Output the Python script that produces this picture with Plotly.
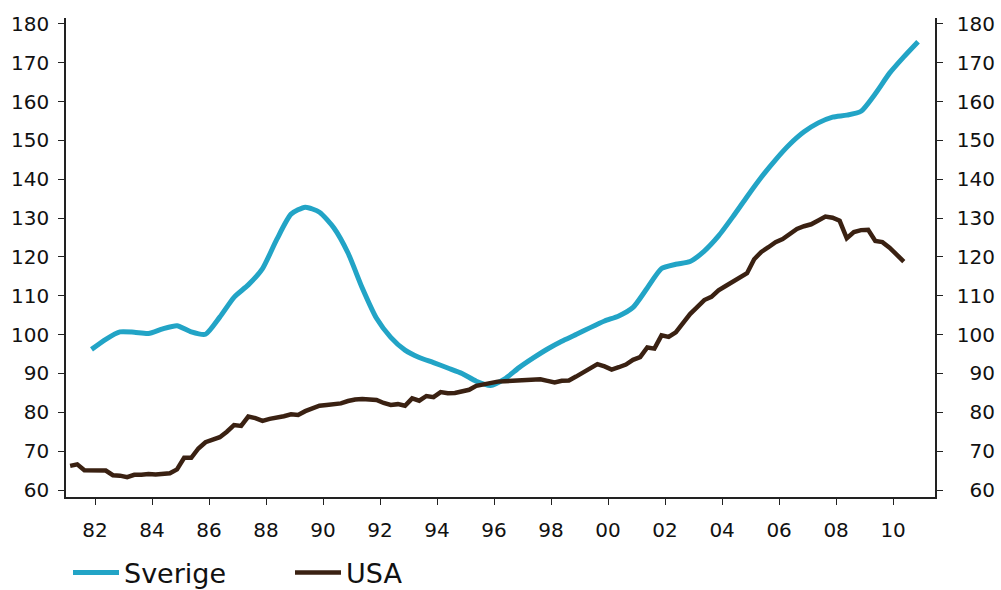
import plotly.graph_objects as go

# ---- data ----
# Sverige: half-yearly observations, starting late 1981
sverige_start = 1981.875
sverige_step = 0.5
sverige_values = [
    96.2, 98.8, 100.7, 100.6, 100.3, 101.5, 102.3, 100.7, 100.1, 104.5,
    109.6, 112.8, 117.0, 124.5, 131.0, 132.8, 131.5, 127.5, 121.0, 112.0,
    104.2, 99.3, 96.0, 94.1, 92.8, 91.4, 90.0, 88.0, 86.9, 88.6,
    91.5, 94.0, 96.3, 98.3, 100.0, 101.8, 103.5, 104.8, 107.0, 112.0,
    117.0, 118.1, 118.8, 121.5, 125.4, 130.3, 135.5, 140.5, 145.0, 149.0,
    152.2, 154.5, 156.0, 156.5, 157.5, 162.0, 167.3, 171.5, 175.4,
]

# USA: quarterly observations, starting early 1981
usa_start = 1981.125
usa_step = 0.25
usa_values = [
    66.2, 66.6, 65.1, 65.0, 65.1, 65.0, 63.8, 63.7, 63.3, 63.9,
    63.9, 64.1, 64.0, 64.1, 64.3, 65.3, 68.3, 68.3, 70.7, 72.3,
    72.9, 73.6, 75.0, 76.7, 76.5, 78.9, 78.5, 77.8, 78.3, 78.6,
    79.0, 79.5, 79.3, 80.3, 81.1, 81.7, 81.9, 82.0, 82.3, 82.9,
    83.3, 83.4, 83.2, 83.2, 82.4, 81.9, 82.1, 81.7, 83.6, 83.0,
    84.2, 83.9, 85.2, 84.9, 85.0, 85.3, 85.8, 86.8, 87.2, 87.5,
    87.9, 88.0, 88.1, 88.1, 88.2, 88.5, 88.5, 88.1, 87.7, 88.1,
    88.2, 89.2, 90.3, 91.4, 92.4, 91.8, 91.0, 91.6, 92.3, 93.5,
    94.2, 96.7, 96.4, 99.8, 99.4, 100.6, 102.9, 105.3, 107.1, 108.9,
    109.7, 111.4, 112.5, 113.7, 114.9, 115.8, 119.4, 121.3, 122.5, 123.8,
    124.6, 126.0, 127.2, 127.9, 128.4, 129.4, 130.4, 130.1, 129.3, 124.8,
    126.4, 126.9, 127.0, 124.1, 123.8, 122.4, 120.6, 118.8,
]

x_tick_years = list(range(1982, 2011, 2))
x_tick_labels = [f"{y % 100:02d}" for y in x_tick_years]
y_tick_values = list(range(60, 181, 10))

sverige_x = [sverige_start + sverige_step * i for i in range(len(sverige_values))]
usa_x = [usa_start + usa_step * i for i in range(len(usa_values))]

SVERIGE_COLOR = "#22A4C6"
USA_COLOR = "#3A2112"
FONT = "DejaVu Sans"

fig = go.Figure()
fig.add_trace(go.Scatter(
    x=sverige_x, y=sverige_values, name="Sverige", mode="lines",
    line=dict(color=SVERIGE_COLOR, width=5, shape="spline", smoothing=0.6),
))
fig.add_trace(go.Scatter(
    x=usa_x, y=usa_values, name="USA", mode="lines",
    line=dict(color=USA_COLOR, width=4.5),
))

yrange = [58.2, 181.5]
axis_common = dict(
    showgrid=False, zeroline=False, showline=True, linecolor="#222222",
    linewidth=1.5, ticks="outside", ticklen=6, tickwidth=1.2, tickcolor="#222222",
    tickfont=dict(family=FONT, size=20, color="#111111"), automargin=False,
)

fig.update_layout(
    width=1001, height=590,
    paper_bgcolor="white", plot_bgcolor="white",
    margin=dict(l=66, r=66, t=18, b=93),
    xaxis=dict(
        range=[1980.98, 2011.47], tickvals=x_tick_years, ticktext=x_tick_labels,
        ticklabelstandoff=8, **axis_common,
    ),
    yaxis=dict(
        range=yrange, tickvals=y_tick_values,
        ticktext=[str(v) for v in y_tick_values],
        ticklabelstandoff=5, **axis_common,
    ),
    yaxis2=dict(
        range=yrange, overlaying="y", side="right", tickvals=y_tick_values,
        ticktext=[("\u2007" if v < 100 else "") + str(v) for v in y_tick_values],
        ticklabelstandoff=10, **axis_common,
    ),
    showlegend=True,
    legend=dict(
        orientation="h", xref="container", yref="container",
        x=68 / 1001, y=1 - 573 / 590, xanchor="left", yanchor="middle",
        font=dict(family=FONT, size=27, color="#111111"),
        itemwidth=46, entrywidth=161, entrywidthmode="pixels",
        bgcolor="rgba(0,0,0,0)",
    ),
)

# invisible trace so the right axis is rendered
fig.add_trace(go.Scatter(x=[None], y=[None], yaxis="y2", showlegend=False, hoverinfo="skip"))

fig.write_html(
    "out.html",
    config={"displayModeBar": False},
    post_script="document.body.style.margin='0';",
)
